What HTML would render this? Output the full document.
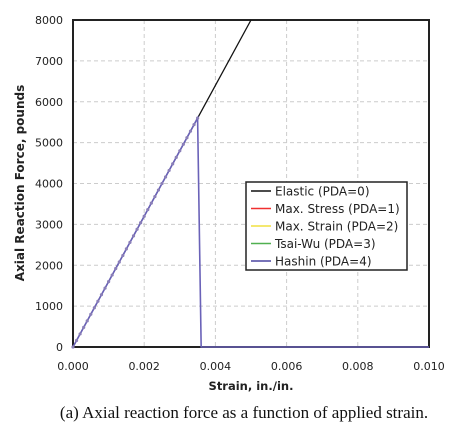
<!DOCTYPE html>
<html><head><meta charset="utf-8"><style>
body{margin:0;background:#fff;width:467px;height:423px;overflow:hidden;font-family:"DejaVu Sans","Liberation Sans",sans-serif}
</style></head><body>
<svg id="c" width="467" height="423" xmlns="http://www.w3.org/2000/svg"></svg>
<script>
const xTicks=[0,0.002,0.004,0.006,0.008,0.010];
const xTickLabels=["0.000","0.002","0.004","0.006","0.008","0.010"];
const yTicks=[0,1000,2000,3000,4000,5000,6000,7000,8000];
const elasticX=[0,0.005];
const elasticY=[0,8000];
const pdaX=[0,0.0035,0.0036,0.010];
const pdaY=[0,5600,0,0];
const markerStep=0.0001;
const X0=73,X1=429,Y0=347,Y1=20;
const sx=v=>X0+(v-0)/(0.010)*(X1-X0);
const sy=v=>Y0-(v/8000)*(Y0-Y1);
const svg=document.getElementById('c');
const NS='http://www.w3.org/2000/svg';
function mk(t,a,txt){const e=document.createElementNS(NS,t);for(const k in a)e.setAttribute(k,a[k]);if(txt!==undefined)e.textContent=txt;svg.appendChild(e);return e;}
xTicks.forEach((v,i)=>{if(i>0&&i<xTicks.length-1){const g=mk('line',{x1:sx(v),x2:sx(v),y1:Y1,y2:Y0,stroke:'#ccc','stroke-dasharray':'4,3'});

}
const t=mk('text',{x:sx(v),y:370,'text-anchor':'middle','font-size':'11',fill:'#222'},xTickLabels[i]);

});
yTicks.forEach((v,i)=>{if(i>0&&i<yTicks.length-1){const g=mk('line',{x1:X0,x2:X1,y1:sy(v),y2:sy(v),stroke:'#ccc','stroke-dasharray':'4,3'});

}
const t=mk('text',{x:63,y:sy(v)+4,'text-anchor':'end','font-size':'11',fill:'#222'},String(v));

});
const f=mk('rect',{x:X0,y:Y1,width:X1-X0,height:Y0-Y1,fill:'none',stroke:'#222','stroke-width':2});


const el=mk('polyline',{points:elasticX.map((x,i)=>sx(x)+','+sy(elasticY[i])).join(' '),fill:'none',stroke:'#111','stroke-width':1.3});


const pl=mk('polyline',{points:pdaX.map((x,i)=>sx(x)+','+sy(pdaY[i])).join(' '),fill:'none',stroke:'#6a62b8','stroke-width':1.6});


for(let x=0;x<=pdaX[1]+1e-9;x+=markerStep){const y=pdaY[1]*x/pdaX[1];const m=mk('circle',{cx:sx(x),cy:sy(y),r:1.6,fill:'#8a7fb8'});

}
const xt=mk('text',{x:251,y:390,'text-anchor':'middle','font-size':'11.5','font-weight':'bold',fill:'#222'},'Strain, in./in.');


const yt=mk('text',{x:24,y:183,'text-anchor':'middle','font-size':'12','font-weight':'bold',fill:'#222',transform:'rotate(-90 24 183)'},'Axial Reaction Force, pounds');


const lb=mk('rect',{x:246,y:182,width:161,height:88,fill:'#fff',stroke:'#222','stroke-width':1.5});


const leg=[["Elastic (PDA=0)","#111"],["Max. Stress (PDA=1)","#f03030"],["Max. Strain (PDA=2)","#f0e040"],["Tsai-Wu (PDA=3)","#50b050"],["Hashin (PDA=4)","#4a45a0"]];
leg.forEach((l,i)=>{const y=191+i*17.5;const ln=mk('line',{x1:251,x2:271,y1:y,y2:y,stroke:l[1],'stroke-width':1.5});


const t=mk('text',{x:275,y:y+4.5,'font-size':'12',fill:'#222'},l[0]);

});
const cap=mk('text',{x:244,y:418,'text-anchor':'middle','font-size':'17','font-family':'Liberation Serif,serif',fill:'#111'},'(a)  Axial reaction force as a function of applied strain.');


</script>
</body></html>
